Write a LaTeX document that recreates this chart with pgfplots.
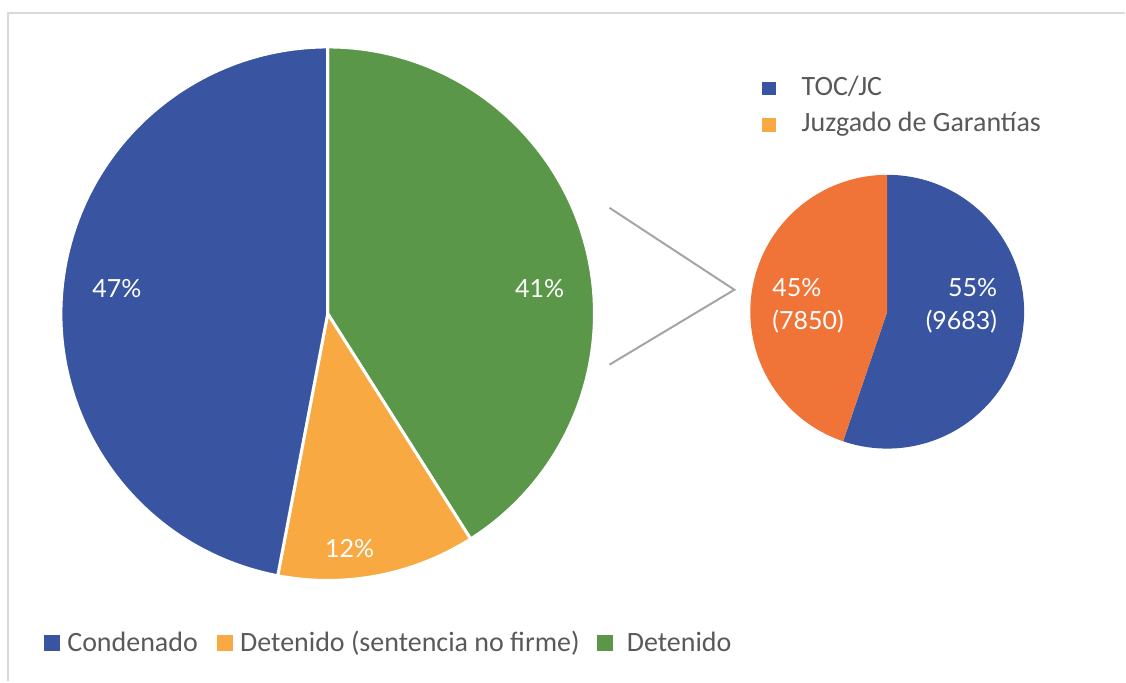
\documentclass[border=0pt]{standalone}
\usepackage{pgfplots}
\pgfplotsset{compat=1.18}
\usepackage{fontspec}
\setmainfont{Carlito}
\newfontfamily\lab{Lato}
\definecolor{cblue}{HTML}{3955A1}
\definecolor{cgreen}{HTML}{5A9748}
\definecolor{corange}{HTML}{F9A942}
\definecolor{cred}{HTML}{F07338}
\definecolor{ctext}{HTML}{595959}
\definecolor{cline}{HTML}{A5A5A5}
\definecolor{cborder}{HTML}{D9D9D9}
% data (percent of the big pie; counts of the small pie)
\def\pCond{47}\def\pNoFirme{12}\def\pDet{41}
\def\nTOC{9683}\def\nJG{7850}
\pgfmathsetmacro{\aSmall}{90-360*((\nTOC/100)/((\nTOC/100)+(\nJG/100)))}
\begin{document}
\begin{tikzpicture}
\begin{axis}[
  scale only axis, width=563pt, height=341pt,
  xmin=0, xmax=1126, ymin=0, ymax=682,
  axis lines=none, clip=false,
]
\path (axis cs:0,0) rectangle (axis cs:1126,682);
% border
\draw[cborder, line width=1pt] (axis cs:8,0) -- (axis cs:8,669) -- (axis cs:1126,669);
% big pie, centre (328,368), radius 267 units = 133.5pt
\fill[cgreen, draw=white, line width=1.5pt, line join=round] (axis cs:328,368) -- ++(90:133.5pt)
  arc[start angle=90, end angle={90-\pDet*3.6}, radius=133.5pt] -- cycle;
\fill[corange, draw=white, line width=1.5pt, line join=round] (axis cs:328,368) -- ++({90-\pDet*3.6}:133.5pt)
  arc[start angle={90-\pDet*3.6}, end angle={90-(\pDet+\pNoFirme)*3.6}, radius=133.5pt] -- cycle;
\fill[cblue, draw=white, line width=1.5pt, line join=round] (axis cs:328,368) -- ++({90-(\pDet+\pNoFirme)*3.6}:133.5pt)
  arc[start angle={90-(\pDet+\pNoFirme)*3.6}, end angle=-270, radius=133.5pt] -- cycle;
% small pie, centre (888,370), radius 137 units = 68.5pt
\fill[cblue] (axis cs:888,370) -- ++(90:68.5pt)
  arc[start angle=90, end angle=\aSmall, radius=68.5pt] -- cycle;
\fill[cred] (axis cs:888,370) -- ++(\aSmall:68.5pt)
  arc[start angle=\aSmall, end angle=-270, radius=68.5pt] -- cycle;
% connector
\draw[cline, line width=1pt] (axis cs:610,474) -- (axis cs:735,392) -- (axis cs:610,317);
% labels
\begin{scope}[every node/.style={text=white, font=\lab\fontsize{12.5pt}{15pt}\selectfont}]
\node at (axis cs:117,393) {47\%};
\node at (axis cs:540,393) {41\%};
\node at (axis cs:350,133) {12\%};
\node[align=left, anchor=west, font=\lab\fontsize{12.5pt}{16.5pt}\selectfont] at (axis cs:766,376) {45\%\\(7850)};
\node[align=right, anchor=east, font=\lab\fontsize{12.5pt}{16.5pt}\selectfont] at (axis cs:1005,376) {55\%\\(9683)};
\end{scope}
% top legend
\fill[cblue] (axis cs:763,587) rectangle (axis cs:777,600);
\fill[corange] (axis cs:763,550) rectangle (axis cs:777,564);
\begin{scope}[every node/.style={text=ctext, font=\fontsize{14pt}{17pt}\selectfont, inner sep=0pt}]
\node[anchor=base west] at (axis cs:802,586) {TOC/JC};
\node[anchor=base west] at (axis cs:802,550) {Juzgado de Garantías};
% bottom legend
\node[anchor=base west] at (axis cs:67,30) {Condenado};
\node[anchor=base west] at (axis cs:240,30) {Detenido (sentencia no firme)};
\node[anchor=base west] at (axis cs:627,30) {Detenido};
\end{scope}
\fill[cblue] (axis cs:44,30) rectangle (axis cs:60,46);
\fill[corange] (axis cs:217,30) rectangle (axis cs:233,46);
\fill[cgreen] (axis cs:598,30) rectangle (axis cs:614,46);
\end{axis}
\end{tikzpicture}
\end{document}
